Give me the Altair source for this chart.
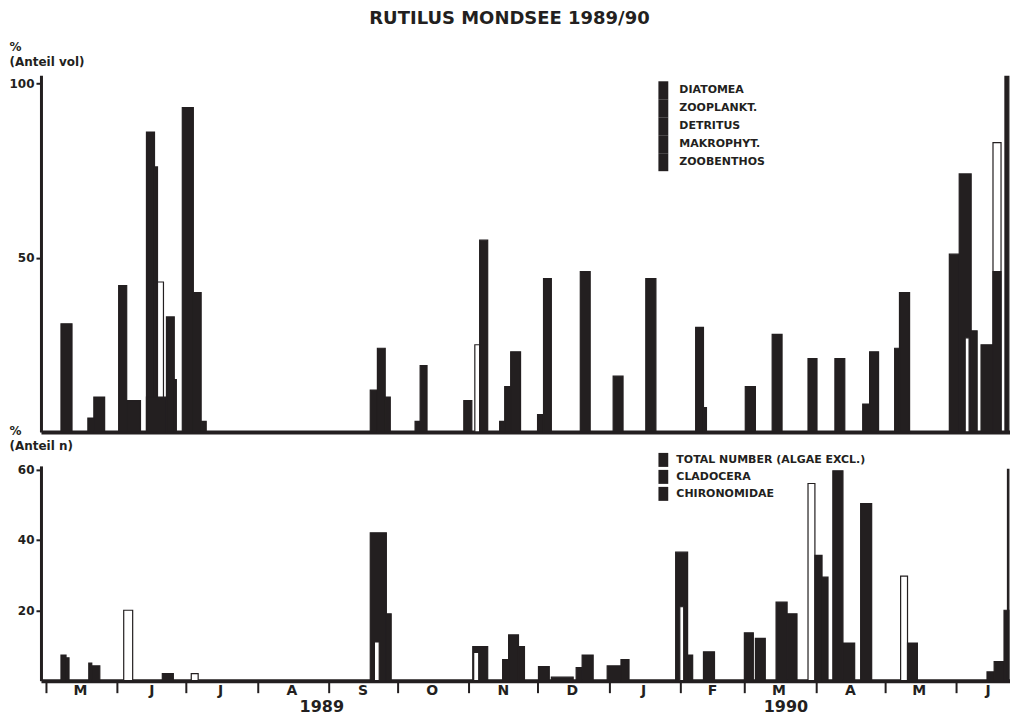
import altair as alt
import pandas as pd

INK = "#231f20"
FONT = "DejaVu Sans"

TITLE = "RUTILUS MONDSEE 1989/90"
BASE_DATE = "1989-05-01"  # day 0 of the day offsets below

# ---------------- upper panel: food composition (% volume) ----------------
TOP_LEGEND = ["DIATOMEA", "ZOOPLANKT.", "DETRITUS", "MAKROPHYT.", "ZOOBENTHOS"]
TOP_YTITLE = ["%", "(Anteil vol)"]
TOP_START = [6.5, 18.2, 20.8, 31.6, 35.1, 43.7, 47.2, 48.5, 43.7, 52.4, 55.8,
             59.3, 64.1, 67.5, 141.1, 144.2, 147.6, 160.6, 162.8, 181.8, 186.6,
             188.7, 197.4, 199.6, 202.2, 213.9, 216.5, 232.5, 246.8, 261.0,
             282.7, 286.1, 304.3, 316.0, 331.6, 343.3, 355.4, 358.4, 369.3,
             371.4, 393.1, 397.4, 402.6, 400.0, 406.9, 412.1, 412.1, 417.3]
TOP_END = [11.3, 20.8, 25.5, 35.1, 41.1, 47.2, 48.5, 51.1, 52.4, 55.8, 56.7,
           64.1, 67.5, 69.7, 144.2, 147.6, 149.8, 162.8, 165.8, 185.3, 188.7,
           192.2, 199.6, 202.2, 206.5, 216.5, 219.9, 236.8, 251.1, 265.4,
           286.1, 287.4, 308.7, 320.3, 335.5, 347.6, 358.4, 362.3, 371.4,
           375.8, 397.4, 402.6, 405.2, 401.7, 412.1, 415.6, 415.6, 419.0]
TOP_VALUE = [31, 4, 10, 42, 9, 86, 76, 43, 10, 33, 15,
             93, 40, 3, 12, 24, 10, 3, 19, 9, 25,
             55, 3, 13, 23, 5, 44, 46, 16, 44,
             30, 7, 13, 28, 21, 21, 8, 23, 24,
             40, 51, 74, 29, 27, 25, 83, 46, 102]
TOP_FILL = ["B", "B", "B", "B", "B", "B", "B", "W", "B", "B", "B",
            "B", "B", "B", "B", "B", "B", "B", "B", "B", "W",
            "B", "B", "B", "B", "B", "B", "B", "B", "B",
            "B", "B", "B", "B", "B", "B", "B", "B", "B",
            "B", "B", "B", "B", "W", "B", "W", "B", "B"]

# ---------------- lower panel: numbers (%) ----------------
BOT_LEGEND = ["TOTAL NUMBER (ALGAE EXCL.)", "CLADOCERA", "CHIRONOMIDAE"]
BOT_YTITLE = ["%", "(Anteil n)"]
BOT_START = [6.5, 8.7, 18.6, 19.9, 33.8, 50.6, 63.2, 141.1, 142.9, 148.1,
             185.7, 186.1, 198.7, 201.3, 205.6, 214.3, 219.9, 230.7, 233.3,
             244.2, 250.2, 274.0, 275.8, 279.2, 286.1, 303.9, 308.7, 317.7,
             322.5, 331.6, 334.6, 337.7, 342.4, 346.8, 354.5, 371.9, 374.9,
             409.5, 412.6, 416.9, 418.4]
BOT_END = [8.7, 10.0, 19.9, 23.4, 37.7, 55.4, 66.2, 148.1, 145.0, 150.2,
           192.2, 188.3, 201.3, 205.6, 208.2, 219.0, 229.4, 233.3, 238.1,
           250.2, 253.7, 279.2, 277.5, 281.4, 290.9, 307.8, 313.0, 322.5,
           326.8, 334.6, 337.7, 340.3, 346.8, 351.9, 359.3, 374.9, 379.2,
           412.6, 416.9, 419.0, 419.0]
BOT_VALUE = [7.3, 6.5, 5, 4.2, 20, 2, 2, 42, 11, 19,
             9.7, 8, 6, 13, 9.7, 4, 1, 3.7, 7.3,
             4.2, 6, 36.5, 21, 7.3, 8.2, 13.6, 12, 22.3,
             19, 56, 35.6, 29.4, 59.6, 10.7, 50.3, 29.7, 10.7,
             2.5, 5.4, 20, 60]
BOT_FILL = ["B", "B", "B", "B", "W", "B", "W", "B", "W", "B",
            "B", "W", "B", "B", "B", "B", "B", "B", "B",
            "B", "B", "B", "W", "B", "B", "B", "B", "B",
            "B", "W", "B", "B", "B", "B", "B", "W", "B",
            "B", "B", "B", "B"]

# ---------------- time axis ----------------
MONTH_STARTS = ["1989-05-01", "1989-06-01", "1989-07-01", "1989-08-01", "1989-09-01",
                "1989-10-01", "1989-11-01", "1989-12-01", "1990-01-01", "1990-02-01",
                "1990-03-01", "1990-04-01", "1990-05-01", "1990-06-01"]
MONTH_MIDS = ["1989-05-16", "1989-06-16", "1989-07-16", "1989-08-16", "1989-09-16",
              "1989-10-16", "1989-11-16", "1989-12-16", "1990-01-16", "1990-02-15",
              "1990-03-16", "1990-04-16", "1990-05-16", "1990-06-15"]
MONTH_LABELS = ["M", "J", "J", "A", "S", "O", "N", "D", "J", "F", "M", "A", "M", "J"]
YEAR_LABELS = ["1989", "1990"]
YEAR_POS = ["1989-08-29", "1990-03-19"]
X_DOMAIN = ["1989-04-28T19:00", "1990-06-24T12:00"]

W = 970
H_TOP = 357
H_BOT = 215

base = pd.Timestamp(BASE_DATE)


def dt(s):
    t = pd.Timestamp(s)
    return alt.DateTime(year=t.year, month=t.month, date=t.day, hours=t.hour, minutes=t.minute)


def bars_df(s, e, v, f):
    return pd.DataFrame({
        "start": base + pd.to_timedelta(s, unit="D"),
        "end": base + pd.to_timedelta(e, unit="D"),
        "value": v,
        "zero": [0] * len(v),
        "fill": [INK if c == "B" else "white" for c in f],
    })


def legend_df(labels):
    n = len(labels)
    return pd.DataFrame({"start": [base] * n, "end": [base] * n,
                         "value": [0] * n, "zero": [0] * n, "label": labels})


xscale = alt.Scale(domain=[dt(d) for d in X_DOMAIN])
top_xaxis = alt.Axis(labels=False, ticks=False, domainWidth=4, grid=False)
bot_xaxis = alt.Axis(values=[dt(d) for d in MONTH_STARTS], labels=False, tickSize=12,
                     tickWidth=2, domainWidth=4, grid=False)


def xenc(field, axis):
    return alt.X(f"{field}:T", scale=xscale, axis=axis, title=None)


def yenc(dom, vals, title, ty):
    return alt.Y("value:Q", scale=alt.Scale(domain=dom, nice=False),
                 axis=alt.Axis(values=vals, title=title, titleAngle=0, titleAlign="left",
                               titleBaseline="bottom", titleX=-32, titleY=ty,
                               titleLineHeight=15, tickSize=5, tickWidth=2,
                               domainWidth=3, labelPadding=2, grid=False))


def panel(s, e, v, f, labels, dom, vals, ytitle, ty, xaxis, leg):
    y = yenc(dom, vals, ytitle, ty)
    bars = alt.Chart(bars_df(s, e, v, f)).mark_bar(stroke=INK, strokeWidth=1.2).encode(
        x=xenc("start", xaxis), x2="end:T", y=y, y2="zero:Q",
        fill=alt.Fill("fill:N", scale=None))
    lg = alt.Chart(legend_df(labels)).mark_bar(strokeWidth=0).encode(
        x=xenc("start", xaxis), x2="end:T", y=y, y2="zero:Q",
        color=alt.Color("label:N", scale=alt.Scale(domain=labels, range=[INK] * len(labels)),
                        legend=leg))
    return bars, lg


top_leg = alt.Legend(orient="none", legendX=614, legendY=6, title=None,
                     symbolType="M-0.55,-1H0.55V1H-0.55Z", symbolSize=324,
                     symbolStrokeWidth=0, rowPadding=0, labelFont=FONT, labelFontSize=11,
                     labelFontWeight="bold", labelColor=INK, labelOffset=7, padding=0,
                     labelLimit=300)
bot_leg = alt.Legend(orient="none", legendX=616, legendY=-13, title=None,
                     symbolType="M-0.7,-1H0.7V1H-0.7Z", symbolSize=196,
                     symbolStrokeWidth=0, rowPadding=3, labelFont=FONT, labelFontSize=11,
                     labelFontWeight="bold", labelColor=INK, labelOffset=6, padding=0,
                     labelLimit=300)

tb, tl = panel(TOP_START, TOP_END, TOP_VALUE, TOP_FILL, TOP_LEGEND, [0, 102.3], [50, 100],
               TOP_YTITLE, -22, top_xaxis, top_leg)
bb, bl = panel(BOT_START, BOT_END, BOT_VALUE, BOT_FILL, BOT_LEGEND, [0, 61], [20, 40, 60],
               BOT_YTITLE, -28, bot_xaxis, bot_leg)

months = alt.Chart(pd.DataFrame({"d": pd.to_datetime(MONTH_MIDS), "label": MONTH_LABELS})).mark_text(
    font=FONT, fontSize=14, fontWeight="bold", color=INK, baseline="middle").encode(
    x=xenc("d", bot_xaxis), y=alt.value(H_BOT + 10), text="label:N")
years = alt.Chart(pd.DataFrame({"d": pd.to_datetime(YEAR_POS), "label": YEAR_LABELS})).mark_text(
    font=FONT, fontSize=16, fontWeight="bold", color=INK, baseline="middle").encode(
    x=xenc("d", bot_xaxis), y=alt.value(H_BOT + 26), text="label:N")

top = alt.layer(tb, tl).properties(width=W, height=H_TOP)
bottom = alt.layer(bb, bl, months, years).properties(width=W, height=H_BOT)

chart = alt.vconcat(top, bottom, spacing=34, bounds="flush").resolve_scale(
    color="independent").resolve_legend(color="independent").properties(
    title=alt.TitleParams(TITLE, fontSize=18, font=FONT, fontWeight="bold", color=INK,
                          anchor="middle", offset=12),
    padding={"left": 0, "top": 2, "right": 0, "bottom": 0},
).configure_view(stroke=None).configure_axis(
    labelFont=FONT, labelFontWeight="bold", labelFontSize=12, labelColor=INK,
    domainColor=INK, tickColor=INK, titleFont=FONT, titleFontWeight="bold",
    titleFontSize=12, titleColor=INK)

chart.save("out.html", embed_options={"renderer": "svg", "actions": False})
